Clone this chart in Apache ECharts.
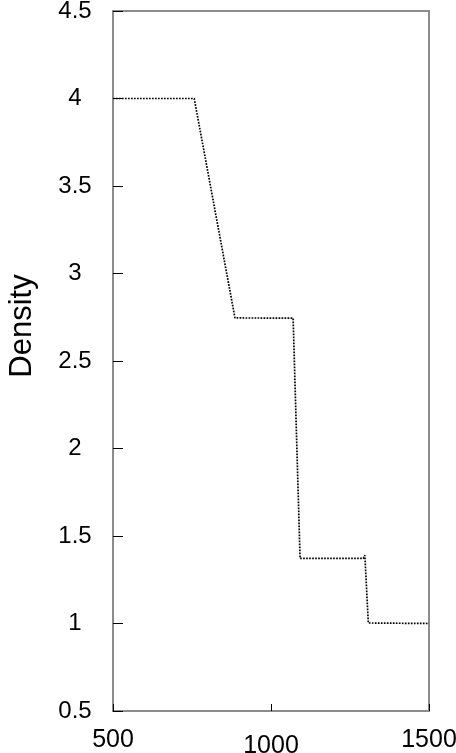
<!DOCTYPE html>
<html>
<head>
<meta charset="utf-8">
<script src="https://cdn.jsdelivr.net/npm/echarts@6/dist/echarts.min.js"></script>
<style>
html,body{margin:0;padding:0;background:#fff;}
#chart{width:456px;height:753px;}
</style>
</head>
<body>
<div id="chart"></div>
<script>
// Data
var densityX = [500, 757, 886, 1070, 1092, 1292, 1297, 1308, 1500];
var densityY = [4.0, 4.0, 2.746, 2.745, 1.372, 1.372, 1.39, 1.003, 1.0];
var xTicks = [500, 1000, 1500];
var yTicks = [0.5, 1, 1.5, 2, 2.5, 3, 3.5, 4, 4.5];
var yName = 'Density';

var points = densityX.map(function (x, i) { return [x, densityY[i]]; });
var font = '"Liberation Sans", Arial, sans-serif';

var chart = echarts.init(document.getElementById('chart'));
chart.setOption({
  animation: false,
  backgroundColor: '#fff',
  grid: {
    left: 113, right: 27, top: 11, bottom: 42,
    containLabel: false,
    outerBoundsMode: 'none',
    show: true, borderColor: '#8c8c8c', borderWidth: 2, backgroundColor: 'transparent'
  },
  xAxis: {
    type: 'value',
    min: xTicks[0], max: xTicks[xTicks.length - 1], interval: 500,
    axisLine: { show: true, lineStyle: { color: '#8c8c8c', width: 2 } },
    axisTick: { show: true, inside: true, length: 7, lineStyle: { color: '#000', width: 1 } },
    splitLine: { show: false },
    axisLabel: {
      margin: 17,
      fontFamily: font, fontSize: 25, color: '#000',
      formatter: function (v) { return v === 1000 ? '{b|' + v + '}' : '{a|' + v + '}'; },
      rich: {
        a: { fontFamily: font, fontSize: 25, color: '#000' },
        b: { fontFamily: font, fontSize: 25, color: '#000', padding: [6, 0, 0, 0] }
      }
    }
  },
  yAxis: {
    type: 'value',
    min: yTicks[0], max: yTicks[yTicks.length - 1], interval: 0.5,
    name: yName,
    nameLocation: 'middle',
    nameGap: 75,
    nameTextStyle: { fontFamily: font, fontSize: 31, color: '#000', padding: [0, 0, 0, 70] },
    axisLine: { show: true, lineStyle: { color: '#8c8c8c', width: 2 } },
    axisTick: { show: true, inside: true, length: 10, lineStyle: { color: '#000', width: 1 } },
    splitLine: { show: false },
    axisLabel: {
      margin: 38, align: 'center',
      fontFamily: font, fontSize: 24, color: '#000',
      padding: [7, 0, 0, 0],
      formatter: function (v) { return String(v); }
    }
  },
  series: [{
    type: 'line',
    data: points,
    showSymbol: false,
    lineStyle: { color: '#000', width: 1.7, type: [1.7, 1.3] }
  }]
});
</script>
</body>
</html>
